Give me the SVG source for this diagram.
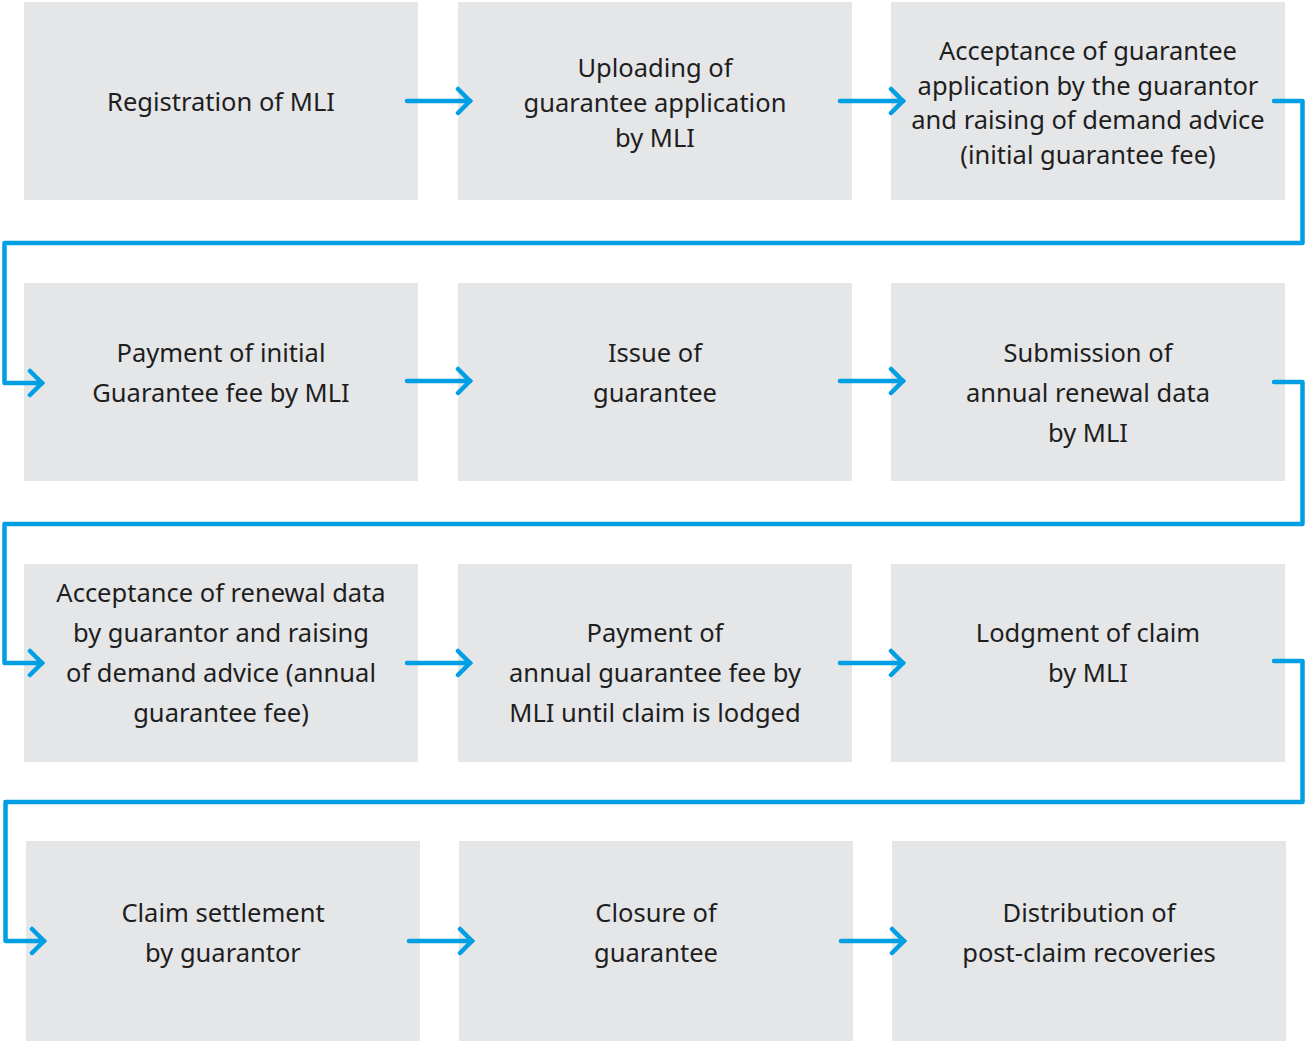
<svg xmlns="http://www.w3.org/2000/svg" width="1305" height="1041" viewBox="0 0 1305 1041">
<style>
.box{fill:#E5E6E8}
.t{font-family:"Noto Sans","Open Sans",sans-serif;font-size:25.5px;fill:#1E1E1E;text-anchor:middle}
.c{fill:none;stroke:#009FE3;stroke-width:4.5;stroke-linecap:round;stroke-linejoin:round}
</style>
<defs>
<marker id="ah" viewBox="0 0 20 30" refX="16" refY="15" markerWidth="20" markerHeight="30" markerUnits="userSpaceOnUse" orient="auto">
<path d="M4 3 L16 15 L4 27" fill="none" stroke="#009FE3" stroke-width="4.5" stroke-linecap="round"/>
</marker>
</defs>
<rect width="1305" height="1041" fill="#fff"/>
<g id="n1"><rect class="box" x="24" y="2" width="394" height="198"/><text class="t" x="221" y="111">Registration of MLI</text></g>
<g id="n2"><rect class="box" x="458" y="2" width="394" height="198"/><text class="t" x="655" y="77">Uploading of</text><text class="t" x="655" y="112">guarantee application</text><text class="t" x="655" y="147">by MLI</text></g>
<g id="n3"><rect class="box" x="891" y="2" width="394" height="198"/><text class="t" x="1088" y="60">Acceptance of guarantee</text><text class="t" x="1088" y="95">application by the guarantor</text><text class="t" x="1088" y="129">and raising of demand advice</text><text class="t" x="1088" y="164">(initial guarantee fee)</text></g>
<g id="n4"><rect class="box" x="24" y="283" width="394" height="198"/><text class="t" x="221" y="362">Payment of initial</text><text class="t" x="221" y="402">Guarantee fee by MLI</text></g>
<g id="n5"><rect class="box" x="458" y="283" width="394" height="198"/><text class="t" x="655" y="362">Issue of</text><text class="t" x="655" y="402">guarantee</text></g>
<g id="n6"><rect class="box" x="891" y="283" width="394" height="198"/><text class="t" x="1088" y="362">Submission of</text><text class="t" x="1088" y="402">annual renewal data</text><text class="t" x="1088" y="442">by MLI</text></g>
<g id="n7"><rect class="box" x="24" y="564" width="394" height="198"/><text class="t" x="221" y="602">Acceptance of renewal data</text><text class="t" x="221" y="642">by guarantor and raising</text><text class="t" x="221" y="682">of demand advice (annual</text><text class="t" x="221" y="722">guarantee fee)</text></g>
<g id="n8"><rect class="box" x="458" y="564" width="394" height="198"/><text class="t" x="655" y="642">Payment of</text><text class="t" x="655" y="682">annual guarantee fee by</text><text class="t" x="655" y="722">MLI until claim is lodged</text></g>
<g id="n9"><rect class="box" x="891" y="564" width="394" height="198"/><text class="t" x="1088" y="642">Lodgment of claim</text><text class="t" x="1088" y="682">by MLI</text></g>
<g id="n10"><rect class="box" x="26" y="841" width="394" height="200"/><text class="t" x="223" y="922">Claim settlement</text><text class="t" x="223" y="962">by guarantor</text></g>
<g id="n11"><rect class="box" x="459" y="841" width="394" height="200"/><text class="t" x="656" y="922">Closure of</text><text class="t" x="656" y="962">guarantee</text></g>
<g id="n12"><rect class="box" x="892" y="841" width="394" height="200"/><text class="t" x="1089" y="922">Distribution of</text><text class="t" x="1089" y="962">post-claim recoveries</text></g>
<g id="connectors">
<path class="c" marker-end="url(#ah)" d="M407 101 H470"/>
<path class="c" marker-end="url(#ah)" d="M840 101 H903"/>
<path class="c" marker-end="url(#ah)" d="M1274 101 H1302.5 V243 H4.5 V383 H42"/>
<path class="c" marker-end="url(#ah)" d="M407 381 H470"/>
<path class="c" marker-end="url(#ah)" d="M840 381 H903"/>
<path class="c" marker-end="url(#ah)" d="M1274 382 H1302.5 V524 H4.5 V663 H42"/>
<path class="c" marker-end="url(#ah)" d="M407 663 H470"/>
<path class="c" marker-end="url(#ah)" d="M840 663 H903"/>
<path class="c" marker-end="url(#ah)" d="M1274 661 H1302.5 V802 H5.5 V941 H44"/>
<path class="c" marker-end="url(#ah)" d="M409 941 H472"/>
<path class="c" marker-end="url(#ah)" d="M841 941 H904"/>
</g>
</svg>
